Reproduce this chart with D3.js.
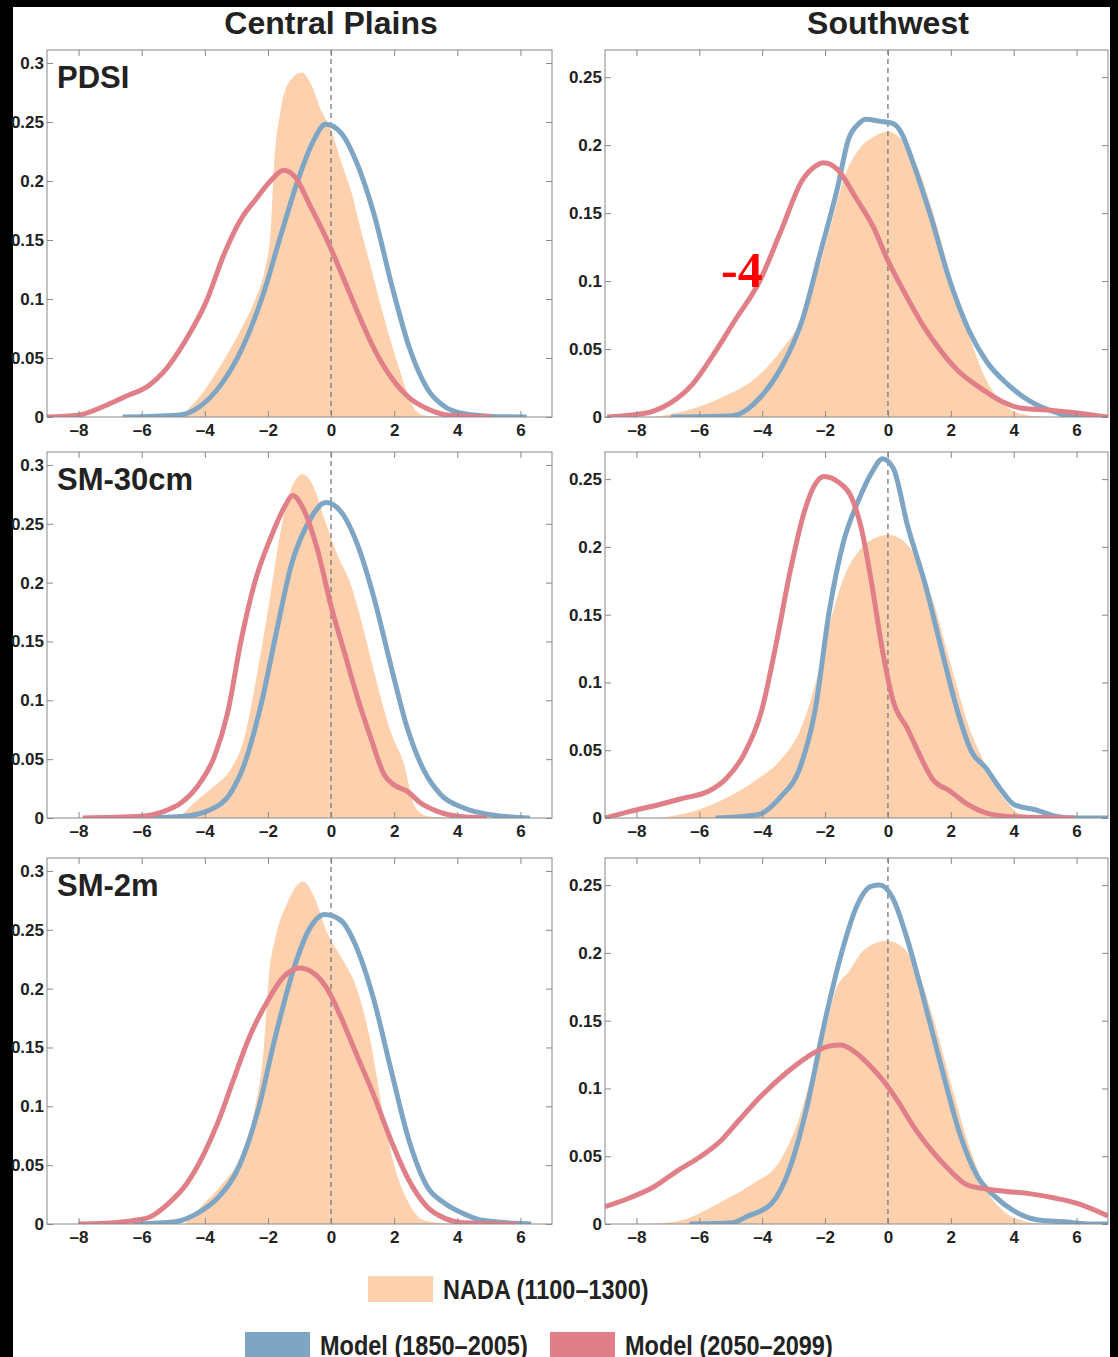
<!DOCTYPE html>
<html>
<head>
<meta charset="utf-8">
<script src="https://cdn.jsdelivr.net/npm/d3@7"></script>
<style>
  html, body { margin: 0; padding: 0; background: #000; }
  svg { display: block; }
  .tick text { font-family: "Liberation Sans", Arial, sans-serif; font-weight: bold; fill: #222; }
  .tick line { stroke: #888; }
</style>
</head>
<body>
<div id="chart"></div>
<script>
var width = 1118
var height = 1357

// ---- data ----
const regions = ["Central Plains", "Southwest"];
const variables = ["PDSI", "SM-30cm", "SM-2m"];
const xTicks = [-8, -6, -4, -2, 0, 2, 4, 6];
const yTicksCP = [0, 0.05, 0.1, 0.15, 0.2, 0.25, 0.3];
const yTicksSW = [0, 0.05, 0.1, 0.15, 0.2, 0.25];
const legendLabels = ["NADA (1100\u20131300)", "Model (1850\u20132005)", "Model (2050\u20132099)"];

// Central Plains, PDSI
const cpPdsiNada = [[-4.8,0],[-4.2,0.016],[-3.56,0.041],[-2.94,0.07],[-2.43,0.098],[-2.09,0.126],[-1.92,0.155],[-1.81,0.212],[-1.6,0.26],[-1.3,0.285],[-0.93,0.292],[-0.6,0.28],[-0.35,0.262],[0,0.243],[0.35,0.214],[0.65,0.19],[0.95,0.158],[1.25,0.128],[1.55,0.097],[1.85,0.068],[2.15,0.042],[2.45,0.018],[2.7,0.005],[3.0,0.001],[3.8,0]];
const cpPdsiHist = [[-6.6,0],[-4.86,0.0015],[-4.18,0.0085],[-3.5,0.027],[-2.82,0.058],[-2.15,0.104],[-1.58,0.155],[-1.02,0.203],[-0.56,0.234],[-0.17,0.248],[0.34,0.24],[0.79,0.217],[1.36,0.172],[1.92,0.112],[2.49,0.058],[3.05,0.024],[3.62,0.0085],[4.18,0.003],[5.3,0.0003],[6.2,0]];
const cpPdsiFut = [[-9,0],[-8.02,0.0015],[-7.12,0.01],[-6.55,0.017],[-5.76,0.027],[-5.31,0.038],[-4.63,0.064],[-3.95,0.098],[-3.39,0.138],[-2.82,0.169],[-2.37,0.185],[-1.92,0.2],[-1.5,0.209],[-1.13,0.203],[-0.68,0.18],[-0.11,0.149],[0.34,0.121],[0.79,0.092],[1.36,0.058],[1.92,0.033],[2.49,0.016],[3.05,0.007],[3.73,0.0015],[5.1,0]];

// Southwest, PDSI
const swPdsiNada = [[-7.46,0],[-6.45,0.0045],[-5.32,0.014],[-4.19,0.029],[-3.4,0.049],[-2.73,0.073],[-2.28,0.103],[-1.83,0.14],[-1.38,0.177],[-0.92,0.197],[-0.47,0.206],[0,0.21],[0.43,0.204],[0.88,0.187],[1.44,0.15],[2.0,0.103],[2.57,0.061],[3.13,0.027],[3.7,0.0094],[4.26,0.002],[5.05,0]];
const swPdsiHist = [[-6.9,0],[-5.1,0.0007],[-4.76,0.002],[-4.08,0.014],[-3.4,0.036],[-2.73,0.071],[-2.16,0.12],[-1.6,0.169],[-1.26,0.204],[-0.92,0.216],[-0.7,0.219],[-0.25,0.2175],[0.15,0.216],[0.43,0.209],[0.77,0.189],[1.33,0.15],[2.0,0.098],[2.57,0.064],[3.13,0.041],[3.81,0.024],[4.49,0.012],[5.39,0.003],[5.95,0],[6.5,0]];
const swPdsiFut = [[-8.93,0],[-8.14,0.0015],[-7.46,0.0044],[-6.9,0.0106],[-6.22,0.024],[-5.55,0.046],[-4.87,0.071],[-4.08,0.1],[-3.4,0.137],[-2.73,0.174],[-2.28,0.185],[-2.05,0.187],[-1.6,0.182],[-1.04,0.162],[-0.47,0.14],[0,0.115],[0.54,0.091],[1.1,0.068],[1.67,0.049],[2.23,0.034],[2.9,0.022],[3.58,0.012],[4.26,0.0064],[5.16,0.005],[5.95,0.0032],[7,0]];

// Central Plains, SM-30cm
const cpSm30Nada = [[-4.81,0],[-4.23,0.0155],[-3.7,0.027],[-3.19,0.041],[-2.77,0.066],[-2.34,0.123],[-1.9,0.193],[-1.65,0.236],[-1.38,0.27],[-0.9,0.292],[-0.53,0.28],[-0.21,0.254],[0.21,0.223],[0.63,0.198],[1.05,0.158],[1.47,0.113],[1.89,0.073],[2.32,0.045],[2.63,0.011],[3.0,0.002],[3.8,0]];
const cpSm30Hist = [[-5.85,0],[-4.68,0.0014],[-3.83,0.007],[-3.19,0.021],[-2.77,0.044],[-2.23,0.095],[-1.7,0.162],[-1.28,0.213],[-0.74,0.25],[-0.16,0.268],[0.32,0.26],[0.84,0.232],[1.37,0.186],[1.89,0.13],[2.42,0.076],[2.95,0.04],[3.47,0.02],[4.21,0.0085],[5.05,0.0028],[6.3,0]];
const cpSm30Fut = [[-7.87,0],[-6.03,0.0014],[-5.29,0.0056],[-4.76,0.0127],[-4.23,0.027],[-3.7,0.052],[-3.28,0.089],[-2.85,0.151],[-2.43,0.199],[-1.9,0.239],[-1.48,0.264],[-1.22,0.274],[-0.85,0.261],[-0.42,0.227],[0,0.18],[0.42,0.141],[0.84,0.102],[1.26,0.068],[1.68,0.037],[2.0,0.028],[2.42,0.0226],[2.84,0.0127],[3.37,0.0056],[4.0,0.0014],[4.95,0]];

// Southwest, SM-30cm
const swSm30Nada = [[-7.3,0],[-6.17,0.0049],[-5.15,0.0147],[-4.13,0.029],[-3.45,0.042],[-2.77,0.066],[-2.32,0.098],[-1.87,0.142],[-1.41,0.177],[-0.85,0.199],[-0.28,0.2076],[0,0.209],[0.4,0.206],[0.85,0.194],[1.41,0.162],[1.98,0.115],[2.55,0.069],[3.11,0.039],[3.68,0.0147],[4.24,0.0025],[4.81,0]];
const swSm30Hist = [[-5.49,0],[-4.13,0.0025],[-3.45,0.0147],[-2.77,0.039],[-2.32,0.079],[-1.87,0.152],[-1.41,0.204],[-0.96,0.233],[-0.51,0.255],[-0.17,0.265],[0.17,0.258],[0.62,0.216],[1.19,0.172],[1.75,0.12],[2.21,0.079],[2.66,0.049],[3.11,0.037],[3.56,0.022],[4.02,0.0098],[4.69,0.0061],[5.37,0.0012],[5.94,0],[7,0]];
const swSm30Fut = [[-9,0],[-8.2,0.0049],[-7.3,0.0098],[-6.5,0.0147],[-5.71,0.0197],[-5.15,0.029],[-4.58,0.047],[-4.02,0.079],[-3.56,0.128],[-3.11,0.182],[-2.66,0.226],[-2.32,0.246],[-2.04,0.252],[-1.53,0.247],[-1.19,0.238],[-0.85,0.214],[-0.51,0.172],[-0.17,0.123],[0.17,0.086],[0.62,0.066],[0.96,0.049],[1.41,0.029],[1.98,0.0197],[2.55,0.0098],[3.11,0.0037],[3.79,0.0012],[5.94,0]];

// Central Plains, SM-2m
const cpSm2Nada = [[-4.64,0],[-4.02,0.0175],[-3.45,0.034],[-2.88,0.057],[-2.42,0.097],[-2.14,0.147],[-1.97,0.21],[-1.74,0.246],[-1.4,0.272],[-0.89,0.291],[-0.49,0.275],[-0.15,0.249],[0.31,0.227],[0.76,0.204],[1.22,0.159],[1.67,0.091],[2.01,0.049],[2.47,0.0175],[2.92,0.0034],[3.83,0]];
const cpSm2Hist = [[-6.29,0],[-4.93,0.002],[-4.24,0.009],[-3.56,0.023],[-2.88,0.051],[-2.31,0.097],[-1.74,0.162],[-1.17,0.218],[-0.72,0.249],[-0.2,0.263],[0.31,0.258],[0.76,0.238],[1.33,0.193],[1.9,0.131],[2.47,0.071],[3.04,0.032],[3.61,0.0175],[4.18,0.009],[4.74,0.0034],[5.88,0.0006],[6.34,0]];
const cpSm2Fut = [[-8,0],[-7.2,0.0006],[-6.29,0.0028],[-5.72,0.0062],[-5.15,0.0175],[-4.58,0.034],[-4.02,0.06],[-3.56,0.088],[-3.1,0.122],[-2.6,0.158],[-2.0,0.19],[-1.5,0.21],[-1.0,0.2175],[-0.6,0.214],[-0.15,0.201],[0.31,0.176],[0.76,0.147],[1.33,0.111],[1.9,0.071],[2.47,0.037],[3.04,0.0147],[3.61,0.0048],[4.18,0.0011],[5.9,0]];

// Southwest, SM-2m
const swSm2Nada = [[-7.56,0],[-6.54,0.003],[-5.41,0.015],[-4.28,0.03],[-3.48,0.045],[-2.81,0.079],[-2.35,0.116],[-2.01,0.141],[-1.67,0.172],[-1.22,0.187],[-0.77,0.202],[-0.03,0.209],[0.48,0.204],[0.93,0.187],[1.49,0.148],[2.06,0.099],[2.62,0.055],[3.19,0.023],[3.76,0.008],[4.43,0.0017],[5.0,0]];
const swSm2Hist = [[-6.31,0],[-4.95,0.001],[-4.5,0.0054],[-3.71,0.015],[-3.14,0.04],[-2.58,0.086],[-2.02,0.148],[-1.45,0.202],[-1.0,0.234],[-0.54,0.249],[-0.26,0.25],[0.14,0.241],[0.59,0.212],[1.15,0.165],[1.72,0.114],[2.28,0.067],[2.85,0.035],[3.42,0.02],[3.98,0.01],[4.77,0.003],[5.57,0.0017],[6.47,0],[7,0]];
const swSm2Fut = [[-9,0.0128],[-8.24,0.019],[-7.44,0.0275],[-6.65,0.04],[-5.97,0.0496],[-5.29,0.062],[-4.73,0.0767],[-4.05,0.094],[-3.26,0.111],[-2.58,0.123],[-1.9,0.131],[-1.5,0.132],[-1.0,0.126],[-0.54,0.116],[-0.09,0.104],[0.36,0.089],[0.81,0.072],[1.38,0.0545],[1.95,0.04],[2.51,0.029],[3.08,0.026],[3.76,0.024],[4.43,0.0226],[5.34,0.019],[6.02,0.0152],[7,0.0059]];

const panels = [
  {col: 0, row: 0, nada: cpPdsiNada, hist: cpPdsiHist, fut: cpPdsiFut},
  {col: 1, row: 0, nada: swPdsiNada, hist: swPdsiHist, fut: swPdsiFut},
  {col: 0, row: 1, nada: cpSm30Nada, hist: cpSm30Hist, fut: cpSm30Fut},
  {col: 1, row: 1, nada: swSm30Nada, hist: swSm30Hist, fut: swSm30Fut},
  {col: 0, row: 2, nada: cpSm2Nada, hist: cpSm2Hist, fut: cpSm2Fut},
  {col: 1, row: 2, nada: swSm2Nada, hist: swSm2Hist, fut: swSm2Fut}
];

// ---- layout ----
const colX = [[47, 552], [605, 1108]];
const rowY = [[50, 417], [452, 818], [858, 1224]];
const yMax = [0.311, 0.27];
const yTicksByCol = [yTicksCP, yTicksSW];
const colors = {nada: "#fdd1ae", hist: "#7ea6c4", fut: "#e07f88"};

var svg = d3.select("#chart").append("svg")
  .attr("width", width)
  .attr("height", height)

// page (black border strips around the white sheet)
svg.append("rect").attr("width", width).attr("height", height).attr("fill", "#000");
svg.append("rect").attr("x", 13).attr("y", 7).attr("width", 1097).attr("height", height - 7).attr("fill", "#fff");

const fmtX = d => d < 0 ? "\u2013" + Math.abs(d) : String(d);
const fmtY = d => d === 0 ? "0" : String(+d.toFixed(2));

panels.forEach((p, i) => {
  const x = d3.scaleLinear().domain([-9, 7]).range(colX[p.col]);
  const y = d3.scaleLinear().domain([0, yMax[p.col]]).range([rowY[p.row][1], rowY[p.row][0]]);
  const [x0, x1] = colX[p.col];
  const [top, bottom] = rowY[p.row];

  const g = svg.append("g");

  g.append("clipPath").attr("id", "clip" + i)
    .append("rect").attr("x", x0).attr("y", top).attr("width", x1 - x0).attr("height", bottom - top);

  const plot = g.append("g").attr("clip-path", `url(#clip${i})`);

  const area = d3.area().x(d => x(d[0])).y0(y(0)).y1(d => y(d[1])).curve(d3.curveMonotoneX);
  const line = d3.line().x(d => x(d[0])).y(d => y(d[1])).curve(d3.curveMonotoneX);

  plot.append("path").datum(p.nada).attr("d", area).attr("fill", colors.nada);

  plot.append("line")
    .attr("x1", x(0)).attr("x2", x(0)).attr("y1", top).attr("y2", bottom)
    .attr("stroke", "#777").attr("stroke-width", 1.3).attr("stroke-dasharray", "5,4");

  plot.append("path").datum(p.hist).attr("d", line)
    .attr("fill", "none").attr("stroke", colors.hist).attr("stroke-width", 5).attr("stroke-linejoin", "round");
  plot.append("path").datum(p.fut).attr("d", line)
    .attr("fill", "none").attr("stroke", colors.fut).attr("stroke-width", 5).attr("stroke-linejoin", "round");

  // axes, ticks pointing inward on all four sides
  const yT = yTicksByCol[p.col];
  g.append("g").attr("transform", `translate(0,${bottom})`)
    .call(d3.axisBottom(x).tickValues(xTicks).tickSizeInner(-6).tickSizeOuter(0).tickPadding(7).tickFormat(fmtX))
    .call(a => a.select(".domain").remove())
    .call(a => a.selectAll("text").attr("font-size", 17));
  g.append("g").attr("transform", `translate(0,${top})`)
    .call(d3.axisTop(x).tickValues(xTicks).tickSizeInner(-6).tickSizeOuter(0).tickFormat(""))
    .call(a => a.select(".domain").remove());
  g.append("g").attr("transform", `translate(${x0},0)`)
    .call(d3.axisLeft(y).tickValues(yT).tickSizeInner(-6).tickSizeOuter(0).tickPadding(3).tickFormat(fmtY))
    .call(a => a.select(".domain").remove())
    .call(a => a.selectAll("text").attr("font-size", 17));
  g.append("g").attr("transform", `translate(${x1},0)`)
    .call(d3.axisRight(y).tickValues(yT).tickSizeInner(-6).tickSizeOuter(0).tickFormat(""))
    .call(a => a.select(".domain").remove());

  g.append("rect").attr("x", x0).attr("y", top).attr("width", x1 - x0).attr("height", bottom - top)
    .attr("fill", "none").attr("stroke", "#888").attr("stroke-width", 1);

  if (p.col === 0) {
    g.append("text").attr("x", x0 + 10).attr("y", top + 38)
      .attr("font-family", "Liberation Sans, Arial, sans-serif").attr("font-weight", "bold")
      .attr("font-size", 31).attr("fill", "#222").text(variables[p.row]);
  }
  if (p.row === 0) {
    g.append("text").attr("x", x(0)).attr("y", 34).attr("text-anchor", "middle")
      .attr("font-family", "Liberation Sans, Arial, sans-serif").attr("font-weight", "bold")
      .attr("font-size", 32).attr("fill", "#222").text(regions[p.col]);
  }
});

// red annotation on the Southwest PDSI panel
svg.append("text").attr("x", 721).attr("y", 287)
  .attr("font-family", "'Liberation Serif', 'DejaVu Serif', serif").attr("font-weight", "bold")
  .attr("font-size", 50).attr("fill", "#ff0000").text("-4");

// ---- legend ----
const legendItems = [
  {label: legendLabels[0], color: colors.nada, x: 368, y: 1276},
  {label: legendLabels[1], color: colors.hist, x: 245, y: 1332},
  {label: legendLabels[2], color: colors.fut, x: 550, y: 1332}
];
const lg = svg.append("g");
legendItems.forEach(d => {
  lg.append("rect").attr("x", d.x).attr("y", d.y).attr("width", 65).attr("height", 26).attr("fill", d.color);
  // condensed look: squeeze the text horizontally
  lg.append("text").attr("transform", `translate(${d.x + 75},${d.y + 23}) scale(0.84,1)`)
    .attr("font-family", "Liberation Sans, Arial, sans-serif").attr("font-weight", "bold")
    .attr("font-size", 28).attr("fill", "#222").text(d.label);
});
</script>
</body>
</html>
